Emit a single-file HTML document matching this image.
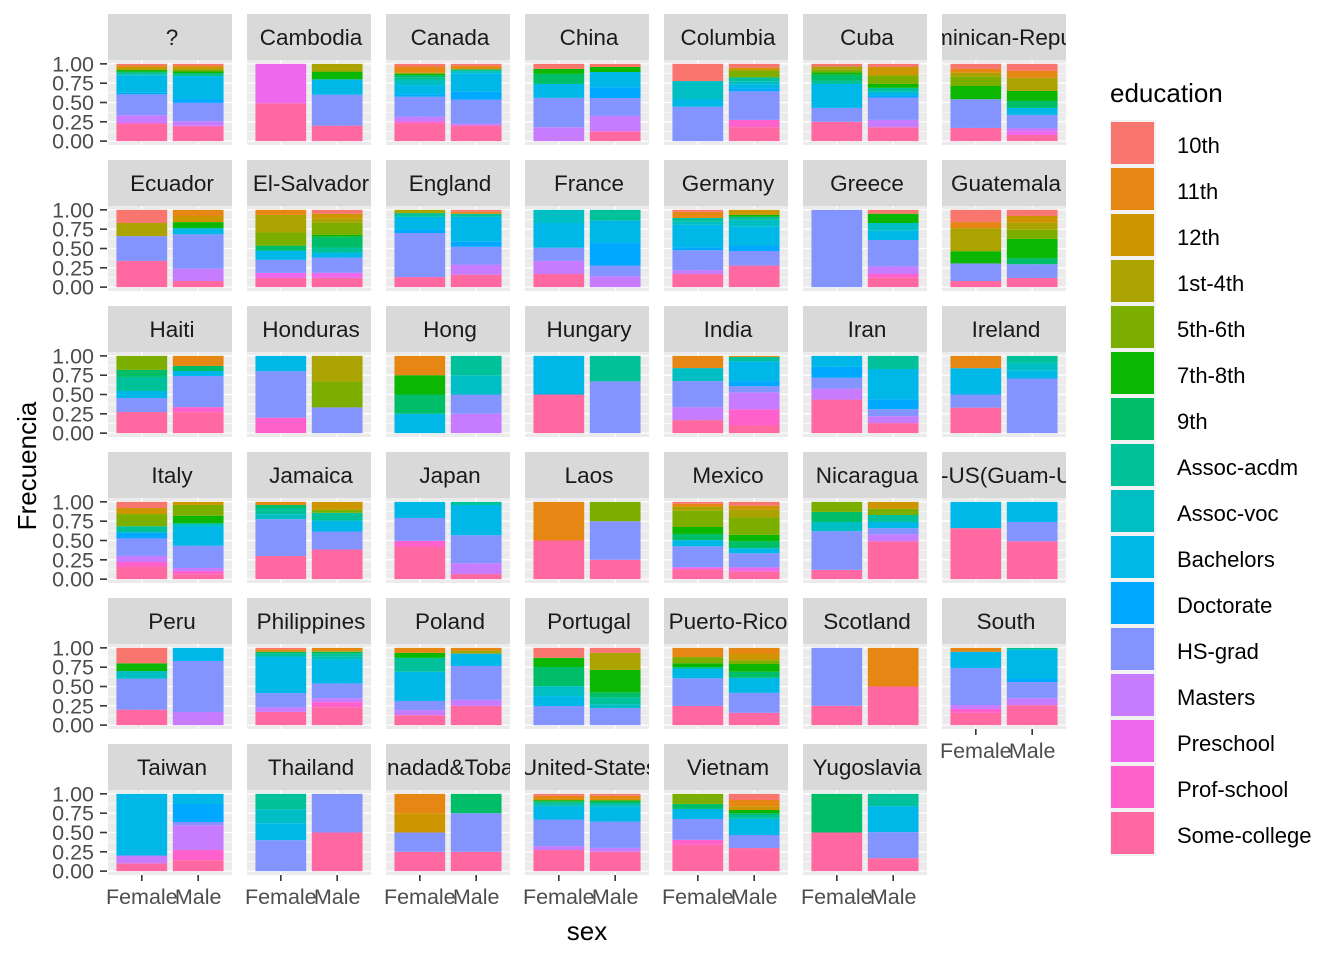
<!DOCTYPE html>
<html><head><meta charset="utf-8"><style>
html,body{margin:0;padding:0;background:#fff;}
svg{display:block;font-family:"Liberation Sans",Arial,sans-serif;}
</style></head><body>
<svg id="chart" width="1344" height="960" viewBox="0 0 1344 960" xmlns="http://www.w3.org/2000/svg"></svg>
<script>
const levels=["10th","11th","12th","1st-4th","5th-6th","7th-8th","9th","Assoc-acdm","Assoc-voc","Bachelors","Doctorate","HS-grad","Masters","Preschool","Prof-school","Some-college"];
const levelColors=["#F8766D","#E68613","#CD9600","#ABA300","#7CAE00","#0CB702","#00BE67","#00C19A","#00BFC4","#00B8E7","#00A9FF","#8494FF","#C77CFF","#ED68ED","#FF61CC","#FF68A1"];
const countries=["?","Cambodia","Canada","China","Columbia","Cuba","Dominican-Republic","Ecuador","El-Salvador","England","France","Germany","Greece","Guatemala","Haiti","Honduras","Hong","Hungary","India","Iran","Ireland","Italy","Jamaica","Japan","Laos","Mexico","Nicaragua","Outlying-US(Guam-USVI-etc)","Peru","Philippines","Poland","Portugal","Puerto-Rico","Scotland","South","Taiwan","Thailand","Trinadad&Tobago","United-States","Vietnam","Yugoslavia"];
const sexes=["Female","Male"];
const yTicks=[0,0.25,0.5,0.75,1];
const yTickLabels=["0.00","0.25","0.50","0.75","1.00"];
const femaleShares=[
[[0,2],[1,2],[2,2],[3,2],[5,2],[6,1.5],[7,2],[8,2],[9,22],[10,2],[11,27],[12,10],[14,1.5],[15,22]],
[[13,51],[15,49]],
[[0,3.5],[1,8],[4,1.5],[5,1.5],[6,3],[7,4],[8,6],[9,12],[10,3],[11,26],[12,6],[14,2.5],[15,23]],
[[0,6.5],[5,6.5],[6,13],[9,18],[11,38],[12,18]],
[[0,22],[8,23],[9,10],[11,44]],
[[0,3.5],[3,4],[4,3.5],[5,3],[6,8],[7,4],[9,31],[11,18],[15,25]],
[[0,6.5],[1,5],[3,5],[4,12],[5,17],[11,37],[15,17]],
[[0,17],[3,17],[11,32],[15,34]],
[[1,6.5],[3,23],[4,17],[6,6.5],[9,12],[11,17],[13,6.5],[15,12]],
[[3,4],[6,1],[7,4],[9,17],[10,4],[11,57],[15,13]],
[[8,17],[9,32],[11,17],[12,17],[15,17]],
[[0,2.5],[1,8],[7,5],[8,4],[9,29],[10,4],[11,26],[12,5],[15,17]],
[[11,100]],
[[0,16],[1,8],[3,30],[5,16],[11,23],[15,8]],
[[4,18],[6,9],[7,18],[9,9],[11,18],[15,27]],
[[9,20],[11,60],[14,20]],
[[1,25],[5,25],[6,25],[9,25]],
[[9,50],[15,50]],
[[1,16],[8,17],[11,34],[12,17],[15,17]],
[[9,14],[10,14],[11,14],[12,14],[15,43]],
[[1,16],[9,34],[11,17],[15,33]],
[[0,8],[2,8],[4,16],[7,8],[10,8],[11,23],[12,8],[14,6.5],[15,16]],
[[1,4],[6,4],[7,8],[8,6.5],[11,48],[15,30]],
[[9,21],[11,30],[14,8],[15,42]],
[[1,50],[15,50]],
[[0,2.5],[1,4],[3,5],[4,21],[5,9],[6,8],[9,8],[11,27],[13,2.5],[15,13]],
[[4,13],[6,13],[8,12],[11,50],[15,12]],
[[9,34],[15,66]],
[[0,20],[5,10],[8,10],[11,40],[15,20]],
[[0,2],[1,2],[2,1],[6,2],[7,4],[9,47],[11,18],[12,6],[15,17]],
[[1,6.5],[5,6.5],[7,18],[9,38],[11,12],[12,6.5],[15,13]],
[[0,13],[5,12],[6,25],[8,13],[9,13],[11,25]],
[[1,12],[4,8],[5,5],[7,2.5],[9,12],[11,36],[15,25]],
[[11,75],[15,25]],
[[1,5],[9,21],[11,48],[12,5],[14,5],[15,16]],
[[9,79],[12,10],[15,10]],
[[7,20],[8,18],[9,22],[11,40]],
[[1,25],[2,25],[11,25],[15,25]],
[[0,2.5],[1,4],[2,1.5],[5,1.3],[6,2],[7,2.5],[8,2.5],[9,16.5],[11,34],[12,5],[15,27]],
[[4,13],[6,6.5],[9,13],[11,27],[14,6.5],[15,34]],
[[6,50],[15,50]]
];
const maleShares=[
[[0,2],[1,2],[2,2],[3,2],[4,2],[5,2],[6,2],[7,2],[9,30],[10,5],[11,24],[12,6],[14,1],[15,19]],
[[3,10],[5,10],[9,20],[11,40],[15,20]],
[[0,2.5],[1,3.5],[2,1],[6,1],[7,2],[8,2],[9,24],[10,10],[11,31],[12,2.5],[15,20]],
[[0,4],[5,6.5],[9,19.5],[10,14],[11,23],[12,19.5],[14,1],[15,12]],
[[0,5],[2,3.5],[4,9],[7,5],[8,4],[9,5.5],[10,3.5],[11,37],[14,9.5],[15,18]],
[[0,4],[2,11],[4,11],[5,5],[7,5],[9,5],[10,2.5],[11,29],[12,9.5],[15,18]],
[[0,9],[1,9],[3,17],[5,13],[6,9],[9,9],[11,17],[12,4],[13,5],[15,8]],
[[1,8],[2,8],[5,8],[9,8],[11,45],[12,16],[15,8]],
[[0,5],[2,6.5],[3,5],[4,15.5],[5,2.5],[6,14],[7,6.5],[9,6.5],[11,19.5],[13,6.5],[15,12]],
[[0,2.5],[1,2.5],[7,4],[9,32],[10,6.5],[11,23],[12,13],[15,16]],
[[7,14],[9,29],[10,29],[11,14],[12,14]],
[[2,6.5],[5,2.5],[7,4],[8,9],[9,25],[10,6.5],[11,19],[15,28]],
[[0,5],[5,12],[8,10],[9,12],[11,34],[12,10],[14,5],[15,12]],
[[0,8],[2,9],[3,9],[4,12],[5,25],[6,8],[11,18],[15,12]],
[[1,13],[6,6.5],[9,6.5],[11,40],[14,6.5],[15,27]],
[[3,33],[4,33],[11,33]],
[[7,25],[8,25],[11,25],[12,25]],
[[7,33],[11,67]],
[[1,1.3],[7,5.5],[9,26],[10,6.5],[11,8],[12,22],[14,21],[15,10]],
[[7,17],[9,39],[10,13],[11,9],[12,9],[15,13]],
[[7,9],[8,10],[9,10],[11,70]],
[[2,4],[4,14],[5,10],[8,4],[9,25],[11,29],[12,4],[14,4],[15,6.5]],
[[2,10],[4,4],[7,10],[9,14],[11,23],[15,38]],
[[7,4],[9,39],[11,36],[12,14],[15,6.5]],
[[4,25],[11,50],[15,25]],
[[0,5],[2,5],[3,10],[4,22],[5,8],[6,9],[9,6.5],[11,18],[13,5],[15,10]],
[[2,9],[4,8],[7,9],[9,8],[11,8],[12,9],[15,49]],
[[9,26],[11,25],[15,49]],
[[9,17],[11,66],[12,17]],
[[1,3.5],[3,1.5],[6,2.5],[7,4],[8,4],[9,30],[11,19],[12,5],[14,6.5],[15,23]],
[[1,3.5],[3,4],[9,16],[11,44],[12,8],[15,25]],
[[0,6.5],[3,22],[5,29],[6,6.5],[7,9],[8,5],[11,22]],
[[1,8],[2,8],[4,5],[5,10],[6,8],[9,19.5],[11,26],[15,16]],
[[1,50],[15,50]],
[[7,2.5],[9,38],[10,4],[11,21],[12,9],[15,26]],
[[9,13],[10,23],[11,4],[12,32],[14,13],[15,14]],
[[11,50],[15,50]],
[[6,25],[11,50],[15,25]],
[[0,2.5],[1,4],[2,1.5],[4,0.5],[5,1.3],[6,2],[7,2.5],[8,2.5],[9,19],[11,34],[12,5],[15,25]],
[[0,8],[1,8],[2,5],[5,4],[6,2.5],[7,5],[9,21],[11,17],[15,30]],
[[7,16],[9,34],[11,34],[15,17]]
];

const NS="http://www.w3.org/2000/svg";
const svg=document.getElementById('chart');
function mk(tag,attrs,parent){const e=document.createElementNS(NS,tag);for(const k in attrs)e.setAttribute(k,attrs[k]);(parent||svg).appendChild(e);return e;}
const nCols=7, colX0=108, colStep=139, panelW=124, rowY0=14, rowStep=146, stripH=46, panelH=85;
const defs=mk('defs',{});
function yScale(v,top){return top+panelH-panelH*(0.05+v)/1.1;}
function xScale(i,left){const unit=panelW/2.2;return left+unit*(0.6+i);}
const unitW=panelW/2.2;
countries.forEach((c,ci)=>{
  const col=ci%nCols,row=Math.floor(ci/nCols);
  const left=colX0+col*colStep, stripTop=rowY0+row*rowStep, top=stripTop+stripH;
  const g=mk('g',{});
  
  
  const cp=mk('clipPath',{id:'clip'+ci},defs);mk('rect',{x:left,y:stripTop,width:panelW,height:stripH},cp);
  const strip=mk('rect',{x:left,y:stripTop,width:panelW,height:stripH,fill:'#D9D9D9'},g);
  
  
  const st=mk('text',{x:left+panelW/2+2,y:stripTop+stripH/2+8,'text-anchor':'middle','font-size':'22.5','fill':'#1A1A1A','clip-path':'url(#clip'+ci+')'},g);
  st.textContent=c;
  
  
  const bg=mk('rect',{x:left,y:top,width:panelW,height:panelH,fill:'#EBEBEB'},g);
  
  
  for(let i=0;i<yTicks.length-1;i++){const v=(yTicks[i]+yTicks[i+1])/2;mk('line',{x1:left,x2:left+panelW,y1:yScale(v,top),y2:yScale(v,top),stroke:'#fff','stroke-width':0.6},g);}
  yTicks.forEach(v=>mk('line',{x1:left,x2:left+panelW,y1:yScale(v,top),y2:yScale(v,top),stroke:'#fff','stroke-width':1.3},g));
  sexes.forEach((s,si)=>mk('line',{x1:xScale(si,left),x2:xScale(si,left),y1:top,y2:top+panelH,stroke:'#fff','stroke-width':1.3},g));
  [femaleShares[ci],maleShares[ci]].forEach((segs,si)=>{
    const tot=segs.reduce((a,b)=>a+b[1],0);
    const sorted=segs.slice().sort((a,b)=>b[0]-a[0]);
    let cum=0;
    const cx=xScale(si,left), w=unitW*0.9;
    sorted.forEach(([lv,val])=>{
      const f=val/tot;
      const y1=yScale(cum+f,top), y0=yScale(cum,top);
      const r=mk('rect',{x:cx-w/2,y:y1,width:w,height:Math.max(0,y0-y1),fill:levelColors[lv]},g);
      
      
      cum+=f;
    });
  });
  if(col===0){
    yTicks.forEach((v,i)=>{
      mk('line',{x1:100,x2:107,y1:yScale(v,top),y2:yScale(v,top),stroke:'#333','stroke-width':1.6},g);
      const t=mk('text',{x:94,y:yScale(v,top)+7.5,'text-anchor':'end','font-size':'21.5','fill':'#4D4D4D'},g);
      t.textContent=yTickLabels[i];
      
      
    });
  }
  const isBottom=(ci+nCols>=countries.length);
  if(isBottom){
    sexes.forEach((s,si)=>{
      const x=xScale(si,left);
      mk('line',{x1:x,x2:x,y1:top+panelH,y2:top+panelH+6,stroke:'#333','stroke-width':1.6},g);
      const t=mk('text',{x:x,y:top+panelH+29,'text-anchor':'middle','font-size':'21.5','fill':'#4D4D4D'},g);
      t.textContent=s;
      
      
    });
  }
});
const yt=mk('text',{x:0,y:0,transform:'translate(36,466) rotate(-90)','text-anchor':'middle','font-size':'26','fill':'#000'});
yt.textContent='Frecuencia';


const xt=mk('text',{x:587,y:940,'text-anchor':'middle','font-size':'26','fill':'#000'});
xt.textContent='sex';


const lg=mk('g',{});


const lt=mk('text',{x:1110,y:102,'font-size':'26','fill':'#000'},lg);
lt.textContent='education';


levels.forEach((lv,i)=>{
  const y=120+46*i;
  mk('rect',{x:1110,y:y,width:46,height:46,fill:'#F2F2F2'},lg);
  const r=mk('rect',{x:1111,y:y+2,width:43,height:42,fill:levelColors[i]},lg);
  
  
  const t=mk('text',{x:1177,y:y+33,'font-size':'22','fill':'#000'},lg);
  t.textContent=lv;
  
  
});
</script>
</body></html>
